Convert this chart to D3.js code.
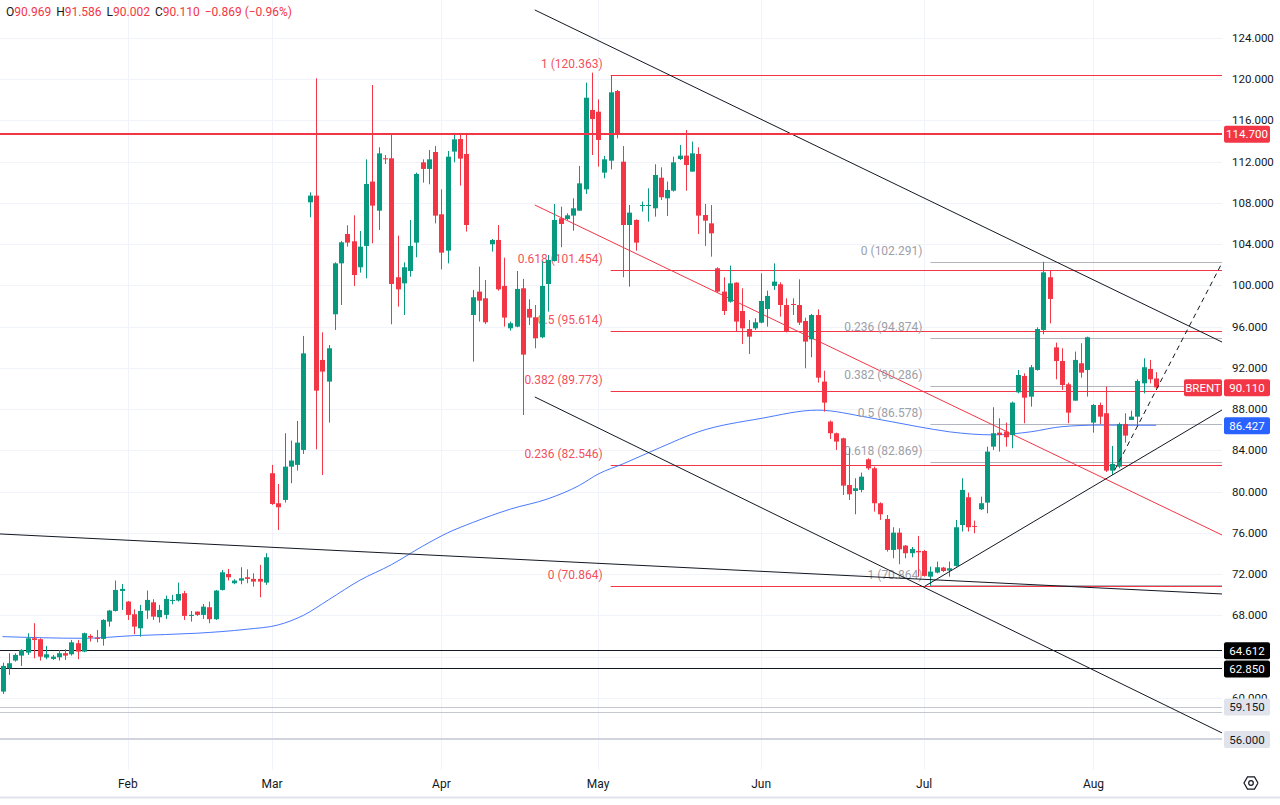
<!DOCTYPE html>
<html><head><meta charset="utf-8">
<script src="https://cdn.jsdelivr.net/npm/d3@7"></script>
<style>body{margin:0;background:#fff;overflow:hidden}svg{display:block;font-family:Roboto,"Noto Sans",sans-serif}</style>
</head><body><svg id="c" width="1280" height="805"></svg>
<script>
// ---------- DATA ----------
const opens=[60.60,62.86,63.61,64.09,64.38,65.77,65.68,63.90,63.77,63.93,64.32,64.22,65.29,64.48,66.00,65.84,65.71,67.39,68.42,70.36,
69.33,68.10,66.74,68.46,69.26,67.81,68.04,69.43,69.43,70.14,67.94,68.36,68.04,68.78,67.62,70.46,72.01,71.11,71.37,71.69,
71.53,71.53,71.17,81.78,78.87,79.19,82.42,82.59,84.04,108.06,108.71,92.77,90.67,97.20,102.14,104.99,104.28,101.76,103.83,110.07,
107.25,112.33,112.33,100.79,100.20,101.40,104.15,111.94,111.30,112.94,106.90,103.37,112.98,114.20,112.75,97.13,99.40,98.75,103.99,104.41,
99.95,95.84,96.00,99.72,97.72,96.91,94.97,100.14,102.37,106.51,106.44,106.77,107.25,109.32,117.02,116.85,110.94,112.10,118.86,112.00,
105.86,106.35,107.70,107.74,107.48,110.45,108.45,109.19,112.26,112.59,111.04,112.75,106.83,106.02,101.66,99.40,98.42,100.27,97.52,95.77,
95.84,96.39,97.71,99.95,100.11,98.10,98.20,98.10,96.55,94.77,97.13,90.67,86.79,85.66,85.17,80.64,80.06,80.16,83.13,82.26,
78.87,77.35,74.34,76.02,74.76,74.02,74.24,74.24,71.75,72.14,72.63,72.34,72.79,76.76,79.45,76.67,78.28,78.93,84.36,85.72,
85.82,85.49,89.63,91.21,89.21,91.80,95.68,100.79,93.99,92.67,90.41,88.82,92.45,91.80,86.69,88.40,87.60,82.03,82.42,86.56,
86.95,87.27,90.50,91.90,90.969];
const highs=[63.41,64.32,64.32,64.71,66.26,67.23,65.77,65.03,64.16,64.64,64.71,65.61,65.61,66.32,66.16,66.58,67.62,68.52,71.37,71.04,
69.39,68.58,69.01,70.40,69.56,69.01,69.91,69.98,71.17,70.36,68.42,68.36,69.10,69.33,70.46,72.40,72.50,71.50,72.66,72.46,
72.08,72.89,74.02,82.59,80.74,85.66,84.95,86.85,95.10,109.03,120.09,95.45,94.22,102.24,104.31,105.83,106.80,105.28,112.23,119.44,
113.40,112.65,114.75,104.83,102.24,106.35,110.94,112.23,113.14,113.53,109.32,113.04,114.75,114.75,114.75,99.56,101.82,100.53,104.50,105.86,
102.69,96.49,101.40,100.63,98.65,98.10,102.31,102.95,107.90,107.64,106.99,108.45,111.59,119.67,120.64,118.05,112.56,120.363,118.96,113.52,
107.80,106.41,108.13,109.42,111.75,111.46,110.07,112.49,113.62,115.08,113.95,113.40,107.90,107.80,101.76,100.79,101.92,100.30,99.72,96.65,
96.81,101.17,99.49,102.14,100.30,98.75,98.75,100.59,96.87,97.23,97.68,91.73,86.89,85.72,85.23,84.20,81.29,81.84,83.23,82.42,
78.96,77.73,76.54,76.44,74.82,74.63,75.70,74.34,72.72,73.21,72.70,73.21,77.25,81.29,79.90,77.19,79.51,84.36,88.18,87.11,
86.69,88.73,91.80,91.47,92.28,95.94,102.291,101.43,94.45,93.90,90.57,93.58,94.39,95.03,88.50,88.63,90.18,84.43,86.69,87.60,
87.85,90.89,92.93,92.77,91.586];
const lows=[60.37,62.22,63.51,63.09,64.16,63.83,63.61,63.74,63.67,63.61,63.67,64.09,63.74,64.42,65.45,65.38,65.06,66.90,68.36,68.52,
67.55,66.16,65.93,67.65,67.55,67.29,67.65,69.07,69.33,67.55,67.39,67.94,67.65,67.23,67.55,70.40,71.37,71.01,71.01,71.11,
70.78,69.75,70.95,78.71,76.28,78.93,80.81,82.04,83.65,106.61,84.10,81.61,86.69,95.68,98.10,103.76,99.95,101.24,100.69,104.08,
105.38,111.78,96.23,97.94,97.13,100.85,102.73,109.97,109.81,106.02,101.56,102.14,111.94,109.68,105.22,92.61,96.49,96.26,103.28,99.49,
96.00,95.62,95.94,87.43,96.16,93.90,94.87,97.46,102.31,103.70,106.35,105.31,107.25,108.87,112.65,111.52,110.39,111.26,114.27,100.79,
99.88,103.37,107.16,106.19,106.67,108.29,106.74,109.10,112.17,109.19,111.04,104.99,103.83,102.79,99.30,97.13,98.33,95.52,94.32,93.35,
95.68,96.33,96.00,99.56,96.97,95.45,97.13,96.16,91.96,93.03,90.57,87.76,85.10,84.04,79.67,79.19,77.80,79.93,82.10,78.06,
77.25,74.18,73.53,72.95,73.53,73.63,71.75,71.75,70.864,72.07,72.20,71.75,72.72,76.12,76.12,75.96,78.22,77.90,84.04,83.88,
84.36,84.20,89.53,86.63,88.24,91.73,95.26,96.32,90.89,89.86,86.63,88.82,91.05,89.21,85.72,86.56,81.90,81.61,82.26,84.75,
86.95,86.30,89.53,90.50,90.002];
const closes=[63.09,63.35,64.16,64.64,65.77,65.61,63.99,64.22,63.99,64.32,64.09,65.38,64.48,66.26,65.84,65.71,67.55,68.46,70.46,70.56,
68.04,66.90,68.42,69.49,67.87,68.52,69.59,69.49,70.07,67.94,68.04,68.04,68.84,67.62,70.40,72.17,71.69,71.37,71.59,71.53,
71.27,71.27,73.63,78.80,78.48,82.42,83.01,84.75,93.41,108.71,89.79,91.64,93.90,102.14,104.18,104.15,101.01,103.76,109.84,107.74,
112.81,112.23,100.14,99.62,101.76,103.83,110.81,111.30,112.23,106.77,103.18,112.49,114.17,112.30,105.86,98.85,98.52,96.42,104.41,99.62,
96.88,96.33,99.66,93.29,96.88,94.87,99.95,102.47,106.35,105.96,106.80,107.48,109.90,118.21,116.14,114.11,112.23,118.73,114.75,105.86,
107.06,104.15,107.80,107.80,110.71,108.55,109.26,111.94,112.59,111.68,112.81,106.77,106.28,105.05,99.40,97.52,100.20,96.49,95.84,95.03,
96.42,98.49,98.98,100.37,98.10,95.58,98.10,96.39,94.55,97.13,91.05,88.63,85.66,84.85,80.58,79.74,80.32,81.45,82.26,78.87,
77.80,74.34,76.02,74.40,74.02,74.44,74.11,71.82,72.24,72.66,72.30,72.56,76.54,80.16,76.54,76.60,78.87,83.88,85.66,85.49,
85.27,88.63,91.31,89.11,92.06,95.77,101.27,98.69,92.67,90.34,87.66,92.77,91.54,94.97,88.40,87.27,82.03,82.68,86.56,85.43,
87.27,90.73,92.06,90.89,90.110];

const monthLabels=["Feb","Mar","Apr","May","Jun","Jul","Aug"];
const monthStart=[20,43,70,95,121,147,174];
const priceTicks=[56,60,64,68,72,76,80,84,88,92,96,100,104,108,112,116,120,124];

const maIdx=[0,13,21,31,39,44,48,52,57,62,67,71,75,81,87,92,95,99,105,111,121,130,138,146,151,158,164,169,175,184];
const maVal=[65.93,65.77,66.03,66.26,66.65,67.07,68.0,69.5,71.4,72.9,74.7,76.0,77.0,78.3,79.3,80.6,81.7,82.7,84.3,85.8,87.1,87.9,87.2,86.3,85.8,85.5,85.8,86.3,86.45,86.43];

const fibALevels=["1","0.618","0.5","0.382","0.236","0"];
const fibAValues=[120.363,101.454,95.614,89.773,82.546,70.864];
const fibAStart=97;
const fibBLevels=["0","0.236","0.382","0.5","0.618","1"];
const fibBValues=[102.291,94.874,90.286,86.578,82.869,70.864];
const fibBStart=148;

// trend lines: [startIndex, startValue, endIndex, endValue]
const trendBlack=[[84.9,126.72,194.5,94.51],[84.9,89.18,194.5,56.59],[-0.4,75.89,194.5,70.07],[147.1,70.82,194.5,87.92]];
const trendDashed=[[177.4,82.10,194.5,102.18]];
const trendRed=[[84.9,107.80,194.5,75.79]];

const redLevel=[114.70];
const blackLevels=[64.612,62.850];
const grayLevels=[59.150,58.600];
const gray2Levels=[56.000];
const lastPrice=90.110, maLast=86.427;
const header=[["O","90.969"],["H","91.586"],["L","90.002"],["C","90.110"]];
const headerChange="−0.869 (−0.96%)";

// ---------- CHART ----------
const W=1280,H=805,PR=1222,PB=770;
const svg=d3.select("#c");
const x=d3.scaleLinear().domain([-0.4,194.5]).range([0,PR]);
const y=d3.scaleLinear().domain([56,124]).range([739,38]);
const ys=v=>Math.round(y(v))+0.5;
const UP="#089981",DN="#f23645";
const fmt=d3.format(".3f");

svg.append("defs").append("clipPath").attr("id","plot").append("rect").attr("x",0).attr("y",0).attr("width",PR).attr("height",PB);
const g=svg.append("g").attr("clip-path","url(#plot)");

// grid
g.selectAll(".hg").data(priceTicks).join("line").attr("x1",0).attr("x2",PR)
 .attr("y1",d=>ys(d)).attr("y2",d=>ys(d)).attr("stroke","#f0f3fa").attr("stroke-width",1);
g.selectAll(".vg").data(monthStart).join("line").attr("y1",0).attr("y2",PB)
 .attr("x1",d=>Math.round(x(d))+0.5).attr("x2",d=>Math.round(x(d))+0.5).attr("stroke","#f0f3fa");

// horizontal levels
const hline=(vals,color,w)=>g.append("g").selectAll("line").data(vals).join("line")
 .attr("x1",0).attr("x2",PR).attr("y1",d=>w%2?ys(d):Math.round(y(d))).attr("y2",d=>w%2?ys(d):Math.round(y(d)))
 .attr("stroke",color).attr("stroke-width",w);
hline(gray2Levels,"#d1d4dc",2);
hline(grayLevels,"#c4c7cf",1);
hline(blackLevels,"#131722",1);

// fib A (red)
g.append("g").selectAll("line").data(fibAValues).join("line")
 .attr("x1",x(fibAStart)).attr("x2",PR).attr("y1",d=>ys(d)).attr("y2",d=>ys(d))
 .attr("stroke","#f23645").attr("stroke-width",1);
// fib B (gray)
g.append("g").selectAll("line").data(fibBValues).join("line")
 .attr("x1",x(fibBStart)).attr("x2",PR).attr("y1",d=>ys(d)+(d===70.864?-1:0)).attr("y2",d=>ys(d)+(d===70.864?-1:0))
 .attr("stroke","#b2b5be").attr("stroke-width",1);

// MA
const ma=maIdx.map((d,i)=>[d,maVal[i]]);
g.append("path").datum(ma).attr("fill","none").attr("stroke","#2962ff").attr("stroke-opacity",0.85).attr("stroke-width",1)
 .attr("d",d3.line().x(d=>x(d[0])).y(d=>y(d[1])).curve(d3.curveMonotoneX));

// trend lines
const tl=(arr,color,dash)=>g.append("g").selectAll("line").data(arr).join("line")
 .attr("x1",d=>x(d[0])).attr("y1",d=>y(d[1])).attr("x2",d=>x(d[2])).attr("y2",d=>y(d[3]))
 .attr("stroke",color).attr("stroke-width",1).attr("stroke-dasharray",dash||null);
tl(trendRed,"#f23645");

// fib labels
g.append("g").selectAll("text").data(fibAValues).join("text")
 .attr("x",x(fibAStart)-8).attr("y",d=>y(d)-7).attr("text-anchor","end").attr("font-size",12).attr("fill","#f23645").attr("fill-opacity",0.9)
 .text((d,i)=>`${fibALevels[i]} (${fmt(d)})`);
g.append("g").selectAll("text").data(fibBValues).join("text")
 .attr("x",x(fibBStart)-8).attr("y",d=>y(d)-7).attr("text-anchor","end").attr("font-size",12).attr("fill","#9da0a8")
 .text((d,i)=>`${fibBLevels[i]} (${fmt(d)})`);

// candles
const idx=d3.range(opens.length);
const cg=g.append("g");
cg.selectAll(".w").data(idx).join("line")
 .attr("x1",i=>Math.round(x(i))+0.5).attr("x2",i=>Math.round(x(i))+0.5)
 .attr("y1",i=>y(highs[i])).attr("y2",i=>y(lows[i]))
 .attr("stroke",i=>closes[i]>=opens[i]?UP:DN).attr("stroke-width",1);
cg.selectAll(".b").data(idx).join("rect")
 .attr("x",i=>Math.round(x(i))-2).attr("width",5)
 .attr("y",i=>y(Math.max(opens[i],closes[i])))
 .attr("height",i=>Math.max(1,Math.abs(y(opens[i])-y(closes[i]))))
 .attr("fill",i=>closes[i]>=opens[i]?UP:DN);

// black trend lines & red level over candles
tl(trendBlack,"#131722");
tl(trendDashed,"#131722","5,4");
hline(redLevel,"#f23645",2);

// badges (price axis)
const badges=[
 {v:redLevel[0],bg:"#f23645",fg:"#fff",x:1224,w:46,t:fmt(redLevel[0])},
 {v:maLast,bg:"#2962ff",fg:"#fff",x:1224,w:46,t:fmt(maLast)},
 {v:blackLevels[0],bg:"#000",fg:"#fff",x:1224,w:46,t:fmt(blackLevels[0])},
 {v:blackLevels[1],bg:"#000",fg:"#fff",x:1224,w:46,t:fmt(blackLevels[1])},
 {v:gray2Levels[0],bg:"#e0e3eb",fg:"#131722",x:1224,w:46,t:fmt(gray2Levels[0])},
 {v:grayLevels[0],bg:"#e0e3eb",fg:"#131722",x:1224,w:46,t:fmt(grayLevels[0])},
 {v:lastPrice,bg:"#f23645",fg:"#fff",x:1224,w:46,t:fmt(lastPrice)},
 {v:lastPrice,bg:"#f23645",fg:"#fff",x:1184,w:38,t:"BRENT"}
];
// axis tick labels, skipping those fully hidden under a badge
const ax=svg.append("g");
const hidden=d=>badges.some(b=>b.x>1200&&Math.abs(y(b.v)-y(d))<7);
ax.selectAll("text").data(priceTicks.filter(d=>!hidden(d))).join("text").attr("x",1232).attr("y",d=>y(d)+4)
 .attr("font-size",11.5).attr("fill","#131722").text(d=>fmt(d));
badges.forEach(b=>{
  const yy=y(b.v);
  ax.append("rect").attr("x",b.x).attr("y",yy-8).attr("width",b.w).attr("height",17).attr("rx",2).attr("fill",b.bg);
  ax.append("text").attr("x",b.x+b.w/2).attr("y",yy+4.5).attr("text-anchor","middle").attr("font-size",11.5).attr("fill",b.fg).text(b.t);
});

// x axis
svg.append("g").selectAll("text").data(monthStart).join("text")
 .attr("x",d=>x(d)).attr("y",788).attr("text-anchor","middle").attr("font-size",12).attr("fill","#131722")
 .text((d,i)=>monthLabels[i]);
svg.append("line").attr("x1",0).attr("x2",W).attr("y1",797.5).attr("y2",797.5).attr("stroke","#e0e3eb").attr("stroke-width",2);

// settings icon
const hx=1251,hy=783,hr=7;
svg.append("path").attr("d",d3.line()(d3.range(7).map(k=>[hx+hr*Math.cos(Math.PI/3*k),hy+hr*Math.sin(Math.PI/3*k)])))
 .attr("fill","none").attr("stroke","#131722").attr("stroke-width",1.2);
svg.append("circle").attr("cx",hx).attr("cy",hy).attr("r",2.3).attr("fill","none").attr("stroke","#131722").attr("stroke-width",1.2);

// header
const ht=svg.append("text").attr("x",6).attr("y",16).attr("font-size",12);
header.forEach(([k,v],i)=>{
  ht.append("tspan").attr("fill","#131722").attr("dx",i?5:0).text(k);
  ht.append("tspan").attr("fill","#f23645").text(v);
});
ht.append("tspan").attr("fill","#f23645").attr("dx",5).text(headerChange);
</script></body></html>
